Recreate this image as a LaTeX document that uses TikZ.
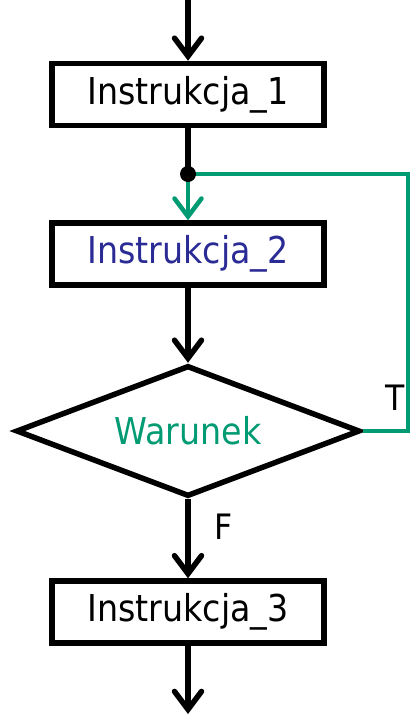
\documentclass[tikz,border=0pt]{standalone}
\usepackage{fontspec}
\setmainfont{DejaVu Sans Condensed}
\usetikzlibrary{arrows.meta,shapes.geometric}
\definecolor{loopgreen}{RGB}{0,154,115}
\definecolor{instblue}{RGB}{43,43,150}
\begin{document}
\begin{tikzpicture}[x=1pt,y=1pt,
  tipstyle/.style={-{Straight Barb[length=18pt,width=27pt,line cap=round]}},
  flowline/.style={line width=5.5pt},
  flowarrow/.style={flowline,tipstyle},
  greenline/.style={line width=4.5pt,draw=loopgreen},
  stepbox/.style={draw,line width=5.5pt,minimum width=272pt,minimum height=62pt,
    inner sep=0pt,font=\fontsize{37}{40}\selectfont},
  condbox/.style={draw,line width=5.5pt,diamond,aspect=2.63,minimum width=344pt,minimum height=131pt,
    inner sep=0pt,font=\fontsize{37}{40}\selectfont},
  lbl/.style={font=\fontsize{35}{38}\selectfont}]
\useasboundingbox (0,0) rectangle (410,-723);
% blocks
\node[stepbox] (b1) at (188,-94.5) {Instrukcja\_1};
\node[stepbox,text=instblue] (b2) at (188,-254) {Instrukcja\_2};
\node[condbox,text=loopgreen] (cond) at (188,-431) {Warunek};
\node[stepbox] (b3) at (188,-612) {Instrukcja\_3};
% branching point and loop-back path
\coordinate (top) at (188,0);
\coordinate (end) at (188,-714);
\coordinate (split) at (188,-174);
\coordinate (rt) at (408,-174);
\coordinate (rb) at (408,-431);
% main flow
\draw[flowarrow] (top) -- (b1.north);
\draw[flowline] (b1.south) -- (split);
\draw[greenline,tipstyle] (split) -- (b2.north);
\draw[flowarrow] (b2.south) -- (cond.north);
\draw[flowarrow] (cond.south) -- (b3.north);
\draw[flowarrow] (b3.south) -- (end);
% loop back for T
\draw[greenline] (cond.east) -- (rb) -- (rt) -- (split);
\fill (split) circle (8pt);
% branch labels
\node[lbl] (tl) at (395,-398) {T};
\node[lbl] (fl) at (224,-527) {F};
\end{tikzpicture}
\end{document}
